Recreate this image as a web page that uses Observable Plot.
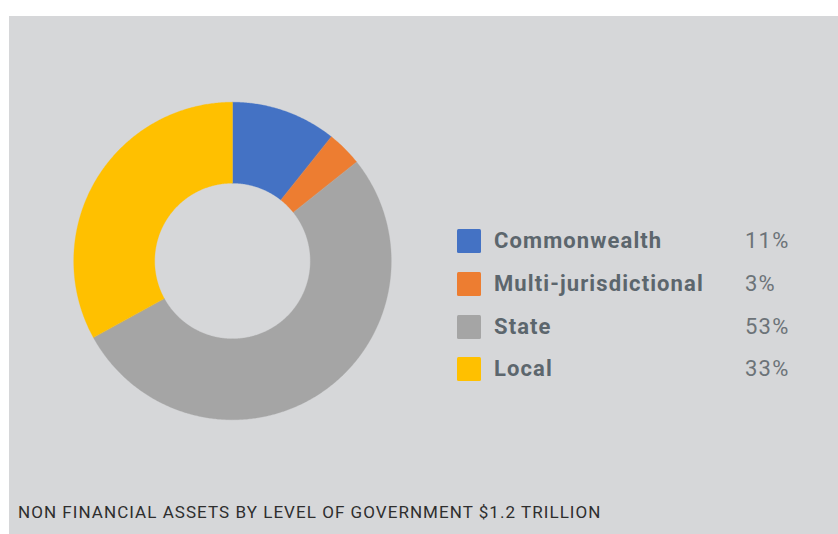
<!DOCTYPE html>
<html>
<head>
<meta charset="utf-8">
<script src="https://cdn.jsdelivr.net/npm/d3@7"></script>
<script src="https://cdn.jsdelivr.net/npm/@observablehq/plot@0.6"></script>
<style>
  html, body { margin: 0; padding: 0; background: #ffffff; }
  body { width: 838px; height: 534px; overflow: hidden; position: relative; font-family: Roboto, "Noto Sans", sans-serif; }
  #panel { position: absolute; left: 9px; top: 16px; width: 829px; height: 518px; background: #d6d7d9; }
  #chart { position: absolute; left: 0; top: 0; }
  #legend { position: absolute; left: 448px; top: 213px; }
  .row { position: relative; height: 42.8px; width: 360px; }
  .sw { position: absolute; left: 0; top: 0; width: 24px; height: 24px; border-radius: 1.5px; }
  .nm { position: absolute; left: 37px; top: -3px; font-size: 22px; font-weight: 700; color: #5c666d; line-height: 30px; white-space: nowrap; letter-spacing: 1.1px; }
  .pc { position: absolute; left: 288px; top: -3px; font-size: 22px; font-weight: 400; color: #6c7378; line-height: 30px; white-space: nowrap; letter-spacing: 1.2px; }
  #caption { position: absolute; left: 9px; top: 486px; font-size: 17px; color: #2e2e2e; white-space: nowrap; letter-spacing: 1.05px; }
</style>
</head>
<body>
<div id="panel">
  <div id="chart"></div>
  <div id="legend"></div>
  <div id="caption">NON FINANCIAL ASSETS BY LEVEL OF GOVERNMENT $1.2 TRILLION</div>
</div>
<script>
const categories = ["Commonwealth", "Multi-jurisdictional", "State", "Local"];
const shares = [10.7, 3.6, 52.7, 33.0];
const shareLabels = ["11%", "3%", "53%", "33%"];
const colors = ["#4472c4", "#ed7d31", "#a5a5a5", "#ffc000"];

const innerRatio = 0.49;

// Build donut slice outlines (in unit-circle data space) from the shares
const total = d3.sum(shares);
const pts = [];
let acc = 0;
categories.forEach((cat, i) => {
  const a0 = acc / total * 2 * Math.PI;
  acc += shares[i];
  const a1 = acc / total * 2 * Math.PI;
  const n = Math.max(4, Math.ceil((a1 - a0) / (Math.PI / 360)));
  for (let k = 0; k <= n; k++) {
    const a = a0 + (a1 - a0) * k / n;
    pts.push({cat, x: Math.sin(a), y: Math.cos(a)});
  }
  for (let k = n; k >= 0; k--) {
    const a = a0 + (a1 - a0) * k / n;
    pts.push({cat, x: innerRatio * Math.sin(a), y: innerRatio * Math.cos(a)});
  }
});

const cx = 223, cy = 244.5, R = 158.8;
const chart = Plot.plot({
  width: 829,
  height: 470,
  margin: 0,
  style: {background: "transparent", overflow: "visible"},
  x: {domain: [-1, 1], range: [cx - R, cx + R], axis: null},
  y: {domain: [-1, 1], range: [cy + R, cy - R], axis: null},
  color: {domain: categories, range: colors},
  marks: [
    Plot.line(pts, {x: "x", y: "y", z: "cat", fill: "cat", stroke: "cat", strokeWidth: 0.3, curve: "linear-closed"})
  ]
});
document.getElementById("chart").appendChild(chart);

const legend = document.getElementById("legend");
categories.forEach((cat, i) => {
  const row = document.createElement("div");
  row.className = "row";
  const sw = document.createElement("div");
  sw.className = "sw";
  sw.style.background = chart.scale("color").apply(cat);
  const nm = document.createElement("div");
  nm.className = "nm";
  nm.textContent = cat;
  const pc = document.createElement("div");
  pc.className = "pc";
  pc.textContent = shareLabels[i];
  row.append(sw, nm, pc);
  legend.appendChild(row);
});
</script>
</body>
</html>
